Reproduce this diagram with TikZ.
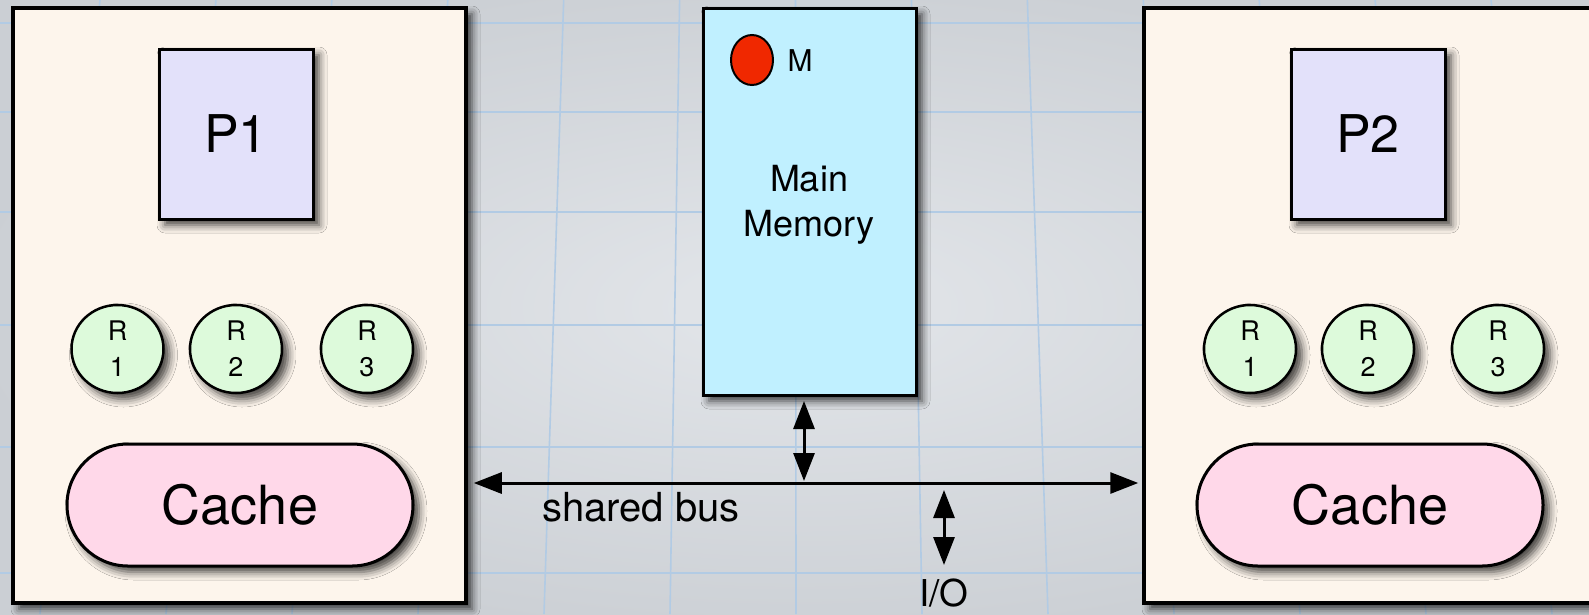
\documentclass[tikz,border=0pt]{standalone}
\usepackage{fontspec}
\setmainfont{TeX Gyre Heros}
\usetikzlibrary{shapes.geometric,shapes.misc,shadows.blur,arrows.meta}

\definecolor{paperin}{HTML}{E3E6EA}
\definecolor{paperout}{HTML}{CBCFD4}
\definecolor{gridblue}{HTML}{B2CBE4}
\definecolor{cream}{HTML}{FDF5EC}
\definecolor{lavender}{HTML}{E3E1FA}
\definecolor{mint}{HTML}{DDFADB}
\definecolor{blush}{HTML}{FFD8E9}
\definecolor{sky}{HTML}{C0F0FF}
\definecolor{dotred}{HTML}{F02800}

\tikzset{
  softshadow/.style={blur shadow={shadow xshift=6pt, shadow yshift=-6pt,
      shadow blur radius=8pt, shadow opacity=75}},
  gridline/.style={draw=gridblue, line width=1.6pt},
  cpubox/.style={rectangle, draw=black, line width=3.5pt, fill=cream,
      minimum width=453pt, minimum height=595pt, inner sep=0pt, softshadow},
  procbox/.style={rectangle, draw=black, line width=3pt, fill=lavender,
      minimum width=154pt, minimum height=170pt, inner sep=0pt, softshadow,
      font=\fontsize{52}{60}\selectfont},
  regdisc/.style={ellipse, draw=black, line width=2.5pt, fill=mint,
      minimum width=92pt, minimum height=88pt, inner sep=0pt, softshadow,
      align=center, font=\fontsize{27}{36}\selectfont},
  cachepill/.style={rounded rectangle, draw=black, line width=3pt, fill=blush,
      minimum width=346pt, minimum height=122pt, inner sep=0pt, softshadow,
      font=\fontsize{54}{60}\selectfont},
  membox/.style={rectangle, draw=black, line width=3pt, fill=sky,
      minimum width=213pt, minimum height=387pt, inner sep=0pt, softshadow},
  reddot/.style={ellipse, draw=black, line width=2pt, fill=dotred,
      minimum width=42pt, minimum height=50pt, inner sep=0pt},
  tip/.tip={Triangle[length=28pt,width=21pt]},
  busline/.style={line width=3pt, tip-tip},
  label/.style={inner sep=0pt, text=black}
}

\begin{document}
\begin{tikzpicture}[x=1pt,y=-1pt]
  \useasboundingbox (0,0) rectangle (1589,614);

  % graph-paper backdrop
  \shade[inner color=paperin, outer color=paperout] (-40,-40) rectangle (1629,654);
  \foreach \xb in {40,166,292,418,544,670,796,922,1048,1174,1300,1426,1552}
    \draw[gridline] ({790+(\xb-790)*0.92},0) -- (\xb,614);
  \foreach \yy in {23,112,212,325,447,573}
    \draw[gridline] (0,\yy) -- (1589,\yy);

  % processor 1
  \node[cpubox] (lbox) at (239.5,305.5) {};
  \node[procbox] (p1) at (236,134) {P1};
  \node[regdisc] (l1) at (117.5,349) {R\\1};
  \node[regdisc] (l2) at (236,349) {R\\2};
  \node[regdisc] (l3) at (367,349) {R\\3};
  \node[cachepill] (lc) at (240,505) {Cache};

  % processor 2
  \node[cpubox] (rbox) at (1370.5,305.5) {};
  \node[procbox] (p2) at (1368,134) {P2};
  \node[regdisc] (r1) at (1250,349) {R\\1};
  \node[regdisc] (r2) at (1368,349) {R\\2};
  \node[regdisc] (r3) at (1498,349) {R\\3};
  \node[cachepill] (rc) at (1370,505) {Cache};

  % main memory
  \node[membox] (mem) at (809.5,201.5) {};
  \node[reddot] (mdot) at (752,60) {};
  \node[label, font=\fontsize{30}{36}\selectfont] (mlab) at (800,61) {M};
  \node[label, align=center, font=\fontsize{36}{45}\selectfont] (memlab) at (809,205) {Main\\Memory};

  % shared bus and its taps
  \coordinate (busL) at ([xshift=6pt]lbox.east |- 0,483);
  \coordinate (busR) at ([xshift=-4pt]rbox.west |- 0,483);
  \draw[busline] (busL) -- (busR);
  \node[label, anchor=base, font=\fontsize{40}{48}\selectfont] (buslab) at (641,521) {shared bus};

  \coordinate (memTop) at (804,401);
  \coordinate (memBot) at (804,481);
  \draw[busline] (memTop) -- (memBot);

  \node[label, anchor=base, font=\fontsize{37}{44}\selectfont] (io) at (944,606) {I/O};
  \coordinate (ioTop) at (944,490);
  \coordinate (ioBot) at (944,565);
  \draw[busline] (ioTop) -- (ioBot);
\end{tikzpicture}
\end{document}
